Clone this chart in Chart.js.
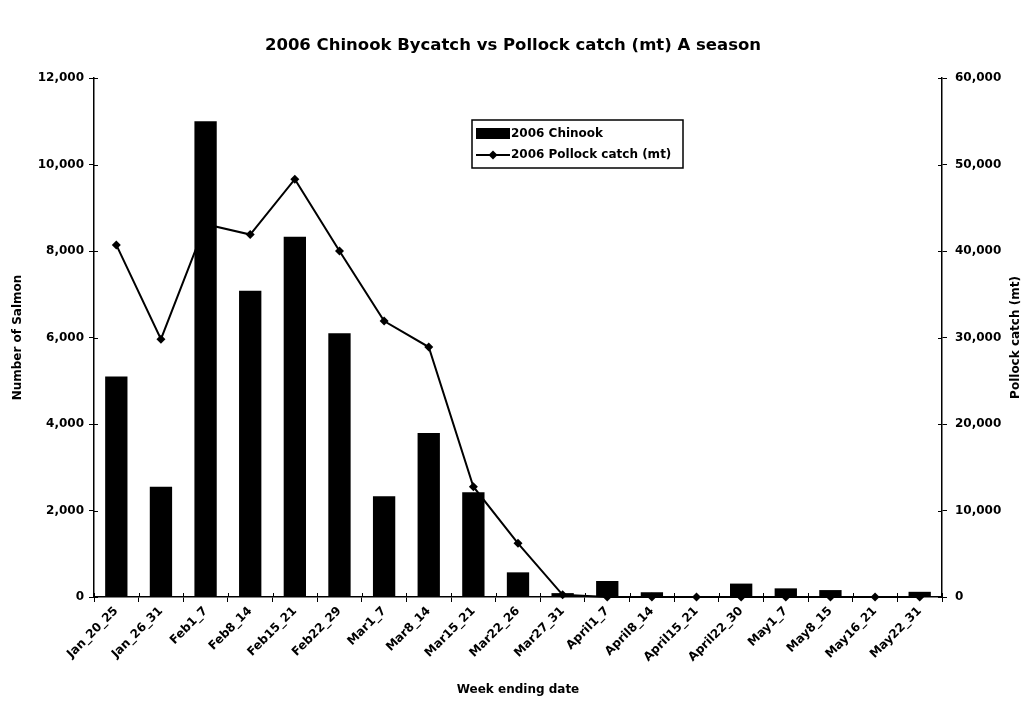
<!DOCTYPE html>
<html>
<head>
<meta charset="utf-8">
<title>2006 Chinook Bycatch vs Pollock catch (mt) A season</title>
<script src="https://cdn.jsdelivr.net/npm/chart.js@4.4.0/dist/chart.umd.min.js"></script>
<style>
  html, body { margin: 0; padding: 0; background: #fff; }
  #wrap { width: 1026px; height: 708px; }
</style>
</head>
<body>
<div id="wrap"><canvas id="chart" width="1026" height="708"></canvas></div>
<script>
// Weekly periods of the 2006 A season
const categories = [
  'Jan_20_25', 'Jan_26_31', 'Feb1_7', 'Feb8_14', 'Feb15_21', 'Feb22_29',
  'Mar1_7', 'Mar8_14', 'Mar15_21', 'Mar22_26', 'Mar27_31', 'April1_7',
  'April8_14', 'April15_21', 'April22_30', 'May1_7', 'May8_15', 'May16_21', 'May22_31'
];

// Chinook salmon bycatch (number of fish) per week
const chinookBycatch = [
  5100, 2550, 11000, 7080, 8330, 6100,
  2330, 3790, 2420, 570, 90, 370,
  110, 0, 310, 200, 160, 20, 120
];

// Pollock catch (metric tons) per week
const pollockCatch = [
  40700, 29800, 43100, 41900, 48300, 40000,
  31900, 28900, 12750, 6200, 250, 0,
  0, 0, 0, 0, 0, 0, 0
];

const chartTitle = '2006 Chinook Bycatch vs Pollock catch (mt) A season';
const leftAxisTitle = 'Number of Salmon';
const rightAxisTitle = 'Pollock catch (mt)';
const bottomAxisTitle = 'Week ending date';
const salmonMax = 12000, salmonStep = 2000;
const pollockMax = 60000, pollockStep = 10000;

const FAMILY = '"DejaVu Sans", "Liberation Sans", Arial, sans-serif';
const fmt = v => Number(v).toLocaleString('en-US');

// Short tick marks on the inside of each axis, so every tick crosses its axis line
const innerTicks = {
  id: 'innerTicks',
  afterDraw(chart) {
    const { ctx, chartArea: a, scales } = chart;
    ctx.save();
    ctx.strokeStyle = '#000';
    ctx.lineWidth = 1;
    ctx.beginPath();
    scales.y.ticks.forEach(t => {
      const p = Math.round(scales.y.getPixelForValue(t.value)) + 0.5;
      ctx.moveTo(a.left, p); ctx.lineTo(a.left + 4, p);
    });
    scales.y1.ticks.forEach(t => {
      const p = Math.round(scales.y1.getPixelForValue(t.value)) + 0.5;
      ctx.moveTo(a.right - 4, p); ctx.lineTo(a.right, p);
    });
    const n = chart.data.labels.length;
    for (let i = 0; i <= n; i++) {
      const p = Math.round(a.left + (a.right - a.left) * i / n) + 0.5;
      ctx.moveTo(p, a.bottom - 4); ctx.lineTo(p, a.bottom);
    }
    ctx.stroke();
    ctx.restore();
  }
};

// Right axis title, reading bottom to top
const rightTitle = {
  id: 'rightTitle',
  afterDraw(chart) {
    const { ctx, chartArea: a } = chart;
    ctx.save();
    ctx.translate(1016, (a.top + a.bottom) / 2);
    ctx.rotate(-Math.PI / 2);
    ctx.font = 'bold 12px ' + FAMILY;
    ctx.fillStyle = '#000';
    ctx.textAlign = 'center';
    ctx.textBaseline = 'middle';
    ctx.fillText(rightAxisTitle, 0, 0);
    ctx.restore();
  }
};

// Boxed legend inside the plot area
const legendBox = {
  id: 'legendBox',
  afterDraw(chart) {
    const { ctx, chartArea: a } = chart;
    const ds = chart.data.datasets;
    const x0 = a.left + 378, y0 = a.top + 42, w = 211, h = 48;
    ctx.save();
    ctx.fillStyle = '#fff';
    ctx.fillRect(x0, y0, w, h);
    ctx.strokeStyle = '#000';
    ctx.lineWidth = 1.5;
    ctx.strokeRect(x0, y0, w, h);

    ctx.fillStyle = '#000';
    ctx.font = 'bold 12px ' + FAMILY;
    ctx.textBaseline = 'middle';
    ctx.textAlign = 'left';

    // bar series swatch
    ctx.fillRect(x0 + 4, y0 + 8, 34, 11);
    ctx.fillText(ds[0].label, x0 + 39, y0 + 14);

    // line series swatch with diamond marker
    const ly = y0 + 35;
    ctx.lineWidth = 2;
    ctx.beginPath();
    ctx.moveTo(x0 + 4, ly); ctx.lineTo(x0 + 38, ly);
    ctx.stroke();
    const cx = x0 + 21, r = 4.5;
    ctx.beginPath();
    ctx.moveTo(cx, ly - r); ctx.lineTo(cx + r, ly); ctx.lineTo(cx, ly + r); ctx.lineTo(cx - r, ly);
    ctx.closePath();
    ctx.fill();
    ctx.fillText(ds[1].label, x0 + 39, ly);
    ctx.restore();
  }
};

const axisFont = { family: FAMILY, size: 12, weight: 'bold' };

new Chart(document.getElementById('chart'), {
  type: 'bar',
  data: {
    labels: categories,
    datasets: [
      {
        type: 'bar',
        label: '2006 Chinook',
        data: chinookBycatch,
        backgroundColor: '#000',
        borderWidth: 0,
        yAxisID: 'y',
        order: 0,
        barPercentage: 0.5,
        categoryPercentage: 1
      },
      {
        type: 'line',
        label: '2006 Pollock catch (mt)',
        data: pollockCatch,
        borderColor: '#000',
        backgroundColor: '#000',
        borderWidth: 2,
        pointStyle: 'rectRot',
        pointRadius: 4.5,
        pointHoverRadius: 4.5,
        pointBorderWidth: 0,
        tension: 0,
        clip: false,
        yAxisID: 'y1',
        order: 1
      }
    ]
  },
  options: {
    responsive: false,
    animation: false,
    devicePixelRatio: 1,
    layout: { padding: 0 },
    plugins: {
      legend: { display: false },
      tooltip: { enabled: false },
      title: {
        display: true,
        text: chartTitle,
        color: '#000',
        font: { family: FAMILY, size: 16.5, weight: 'bold' },
        padding: { top: 36, bottom: 22.2 }
      }
    },
    scales: {
      x: {
        offset: true,
        grid: { offset: true, drawOnChartArea: false, color: '#000', tickLength: 5, lineWidth: 1 },
        border: { color: '#000', width: 1.5 },
        ticks: { color: '#000', font: axisFont, maxRotation: 45, minRotation: 45, autoSkip: false, padding: 2 },
        title: { display: true, text: bottomAxisTitle, color: '#000', font: axisFont, padding: { top: 0, bottom: 11 } },
        afterFit(s) { s.height = 111; }
      },
      y: {
        position: 'left',
        min: 0,
        max: salmonMax,
        grid: { drawOnChartArea: false, color: '#000', tickLength: 5, lineWidth: 1 },
        border: { color: '#000', width: 1.5 },
        ticks: { stepSize: salmonStep, color: '#000', font: axisFont, padding: 5, callback: fmt },
        title: { display: true, text: leftAxisTitle, color: '#000', font: axisFont, padding: { top: 11, bottom: 0 } },
        afterFit(s) { s.width = 94; }
      },
      y1: {
        position: 'right',
        min: 0,
        max: pollockMax,
        grid: { drawOnChartArea: false, color: '#000', tickLength: 5, lineWidth: 1 },
        border: { color: '#000', width: 1.5 },
        ticks: { stepSize: pollockStep, color: '#000', font: axisFont, padding: 8, callback: fmt },
        afterFit(s) { s.width = 84; }
      }
    }
  },
  plugins: [innerTicks, rightTitle, legendBox]
});
</script>
</body>
</html>
